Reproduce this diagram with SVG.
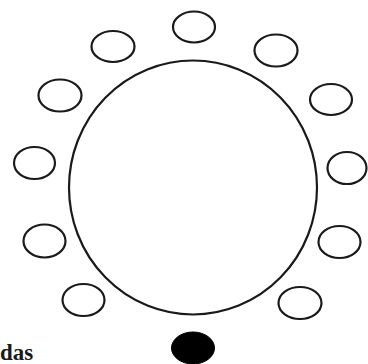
<svg xmlns="http://www.w3.org/2000/svg" width="368" height="364" viewBox="0 0 368 364">
<style>
.seat{fill:#fff;stroke:#1a1a1a;stroke-width:2.2}
.table{fill:#fff;stroke:#1a1a1a;stroke-width:2.2}
.filled{fill:#000;stroke:#000;stroke-width:1}
</style>
<rect width="368" height="364" fill="#fff"/>
<g id="table"><ellipse class="table" cx="193" cy="187.5" rx="124" ry="127"/></g>
<g id="seat-top"><ellipse class="seat" cx="194" cy="27" rx="21" ry="15.5"/></g>
<g id="seat-ul"><ellipse class="seat" cx="113" cy="46.5" rx="21.5" ry="15.5"/></g>
<g id="seat-ur"><ellipse class="seat" cx="276" cy="50.5" rx="21.5" ry="16"/></g>
<g id="seat-l2"><ellipse class="seat" cx="60" cy="95.5" rx="21.5" ry="16"/></g>
<g id="seat-r2"><ellipse class="seat" cx="331" cy="99.5" rx="21" ry="15.5"/></g>
<g id="seat-l3"><ellipse class="seat" cx="34.5" cy="163" rx="20.5" ry="16"/></g>
<g id="seat-r3"><ellipse class="seat" cx="347" cy="168" rx="19.5" ry="16"/></g>
<g id="seat-l4"><ellipse class="seat" cx="44.5" cy="241" rx="21" ry="16.5"/></g>
<g id="seat-r4"><ellipse class="seat" cx="339.5" cy="242" rx="21" ry="16"/></g>
<g id="seat-l5"><ellipse class="seat" cx="83.5" cy="300" rx="21" ry="16"/></g>
<g id="seat-r5"><ellipse class="seat" cx="300" cy="303" rx="21.5" ry="16"/></g>
<g id="seat-head"><ellipse class="filled" cx="193" cy="348" rx="21.5" ry="16"/></g>
<g id="label"><text x="0" y="360" font-family="'Liberation Serif', 'Times New Roman', serif" font-size="23" font-weight="bold" fill="#1a1a1a">das</text></g>
<g id="connectors"/>
</svg>
